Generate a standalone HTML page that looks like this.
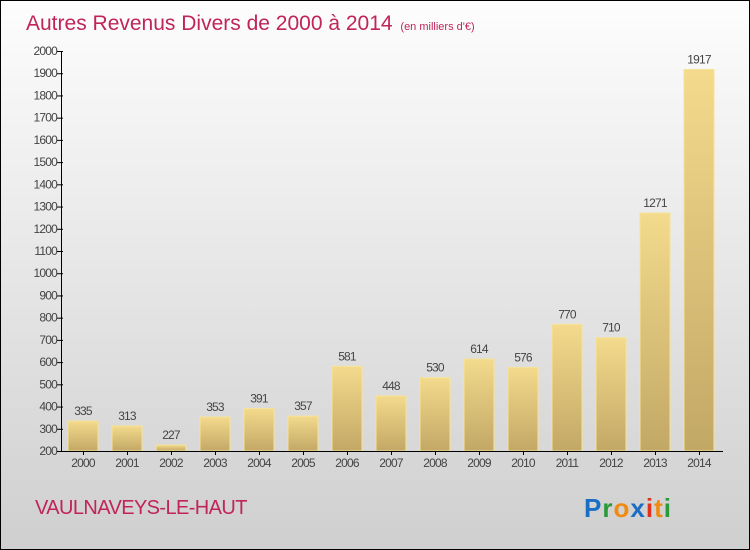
<!DOCTYPE html>
<html><head><meta charset="utf-8"><style>
body{margin:0}
#wrap{width:750px;height:550px;position:relative;box-sizing:border-box;border:1px solid #000;background:linear-gradient(#fdfdfd,#cfcfcf);font-family:"Liberation Sans",sans-serif;overflow:hidden}
</style></head><body>
<div id="wrap">
<svg id="c" width="748" height="548" style="position:absolute;left:0;top:0">
<defs><linearGradient id="bg" x1="0" y1="0" x2="0" y2="1"><stop offset="0" stop-color="#f4da8c"/><stop offset="1" stop-color="#c2a865"/></linearGradient></defs>
<text x="25" y="29" font-size="21" fill="#c0245a">Autres Revenus Divers de 2000 à 2014 <tspan font-size="11" dx="2">(en milliers d'€)</tspan></text>
<g id="g"></g>
<text x="34" y="513" font-size="20" fill="#c0245a" letter-spacing="-0.6">VAULNAVEYS-LE-HAUT</text>
<text x="583" y="516" font-size="26" font-weight="bold" letter-spacing="1"><tspan fill="#1a6fc4">P</tspan><tspan fill="#2a9a3a">r</tspan><tspan fill="#f08a10">o</tspan><tspan fill="#1a6fc4">x</tspan><tspan fill="#e03020">i</tspan><tspan fill="#f08a10">t</tspan><tspan fill="#2a9a3a">i</tspan></text>
</svg>
</div>
<script>
const years=["2000","2001","2002","2003","2004","2005","2006","2007","2008","2009","2010","2011","2012","2013","2014"];
const values=[335,313,227,353,391,357,581,448,530,614,576,770,710,1271,1917];
const yTicks=[200,300,400,500,600,700,800,900,1000,1100,1200,1300,1400,1500,1600,1700,1800,1900,2000];
const g=document.getElementById('g');const NS='http://www.w3.org/2000/svg';
const x0=60,slot=44,yMin=200,yMax=2000,yTop=50,yBot=450;
const y=v=>yBot-(v-yMin)/(yMax-yMin)*(yBot-yTop);
function mk(t,a){const e=document.createElementNS(NS,t);for(const k in a)e.setAttribute(k,a[k]);g.appendChild(e);return e;}
yTicks.forEach(v=>{
 const l=mk('line',{x1:x0-4,x2:x0+2,y1:y(v)+.5,y2:y(v)+.5,stroke:'#000'});
 
 
 const t=mk('text',{x:x0-4,y:y(v)+4,'font-size':12,fill:'#444','text-anchor':'end','letter-spacing':'-0.8'});
 t.textContent=v;
 
 
});
years.forEach((yr,i)=>{
 const v=values[i];const bx=x0+i*slot+7;
 const r=mk('rect',{x:bx,y:y(v),width:30,height:yBot-y(v),fill:'url(#bg)',stroke:'#f5e39a','stroke-width':1});
 
 
 const t=mk('text',{x:bx+15,y:y(v)-6,'font-size':12,fill:'#444','text-anchor':'middle','letter-spacing':'-0.8'});
 t.textContent=v;
 
 
 const xl=mk('text',{x:bx+15,y:466,'font-size':12,fill:'#444','text-anchor':'middle','letter-spacing':'-0.8'});
 xl.textContent=yr;
 
 
 const tk=mk('line',{x1:bx+15.5,x2:bx+15.5,y1:yBot,y2:yBot+4,stroke:'#000'});
 
 
});
const ya=mk('line',{x1:x0+.5,x2:x0+.5,y1:yTop,y2:yBot+1,stroke:'#000'});


const xa=mk('line',{x1:x0-4,x2:722,y1:yBot+.5,y2:yBot+.5,stroke:'#000'});


</script>
</body></html>
